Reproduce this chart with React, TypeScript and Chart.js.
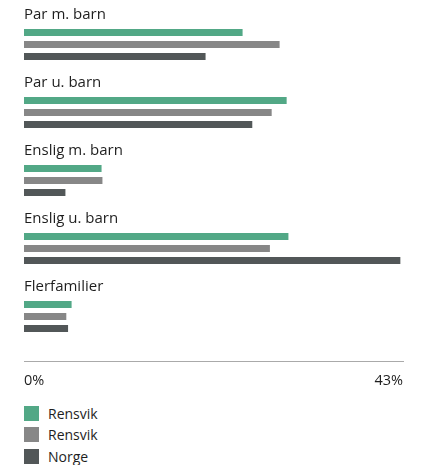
import React, { useEffect, useRef } from "react";
import { Chart, registerables } from "chart.js";

Chart.register(...registerables);

const categories = ["Par m. barn", "Par u. barn", "Enslig m. barn", "Enslig u. barn", "Flerfamilier"];
const seriesNames = ["Rensvik", "Rensvik", "Norge"];
const rensvikA = [24.8, 29.8, 8.8, 30.0, 5.4];
const rensvikB = [29.0, 28.1, 8.9, 27.9, 4.8];
const norge = [20.6, 25.9, 4.7, 42.7, 5.0];
const colors = ["#52A886", "#878787", "#525758"];
const axisMax = 43;
const tickValues = [0, 43];

const FONT = "'Open Sans', sans-serif";
const TEXT = "#1e1e1e";

const extras = {
  id: "extras",
  afterDatasetsDraw(chart: any) {
    const { ctx, chartArea, scales } = chart;
    const y = scales.y;
    ctx.save();
    ctx.fillStyle = TEXT;
    ctx.font = `15px ${FONT}`;
    ctx.textBaseline = "alphabetic";
    ctx.textAlign = "left";
    categories.forEach((c, i) => {
      ctx.fillText(c, chartArea.left, y.getPixelForValue(i) - 25.5);
    });
    ctx.strokeStyle = "#aaaaaa";
    ctx.lineWidth = 1;
    const ly = Math.round(chartArea.bottom + 10.5) + 0.5;
    ctx.beginPath();
    ctx.moveTo(chartArea.left, ly);
    ctx.lineTo(chartArea.right + 1, ly);
    ctx.stroke();
    ctx.restore();
  },
};

export default function App() {
  const ref = useRef<HTMLCanvasElement>(null);
  useEffect(() => {
    document.body.style.margin = "0";
    const chart = new Chart(ref.current as HTMLCanvasElement, {
      type: "bar",
      data: {
        labels: categories,
        datasets: [rensvikA, rensvikB, norge].map((d, i) => ({
          label: seriesNames[i],
          data: d,
          backgroundColor: colors[i],
          borderWidth: 0,
          categoryPercentage: 36 / 68,
          barPercentage: 7 / 12,
        })),
      },
      options: {
        indexAxis: "y",
        responsive: false,
        animation: false,
        events: [],
        layout: { padding: { left: 24, right: 22, top: 10.5, bottom: 9.5 } },
        plugins: { legend: { display: false }, tooltip: { enabled: false } },
        scales: {
          y: { display: false, offset: true },
          x: {
            min: 0,
            max: axisMax,
            grid: { display: false, drawTicks: false },
            border: { display: false },
            afterBuildTicks: (s: any) => {
              s.ticks = tickValues.map((v) => ({ value: v }));
            },
            afterFit: (s: any) => {
              s.height = 40;
            },
            ticks: {
              align: "inner",
              autoSkip: false,
              maxRotation: 0,
              padding: 22,
              color: TEXT,
              font: { family: FONT, size: 14.5 },
              callback: (v: any) => `${v}%`,
            },
          },
        },
      },
      plugins: [extras],
    } as any);
    return () => chart.destroy();
  }, []);

  return (
    <div style={{ position: "relative", width: 425, height: 465, fontFamily: FONT, color: TEXT }}>
      <canvas ref={ref} width={425} height={400} style={{ position: "absolute", left: 0, top: 0 }} />
      <div style={{ position: "absolute", left: 24, top: 406 }}>
        {seriesNames.map((n, i) => (
          <div key={i} style={{ display: "flex", alignItems: "center", height: 15, marginBottom: 6.3 }}>
            <span style={{ width: 15, height: 15, background: colors[i], display: "inline-block" }} />
            <span style={{ marginLeft: 9, fontSize: 14, lineHeight: "15px" }}>{n}</span>
          </div>
        ))}
      </div>
    </div>
  );
}
